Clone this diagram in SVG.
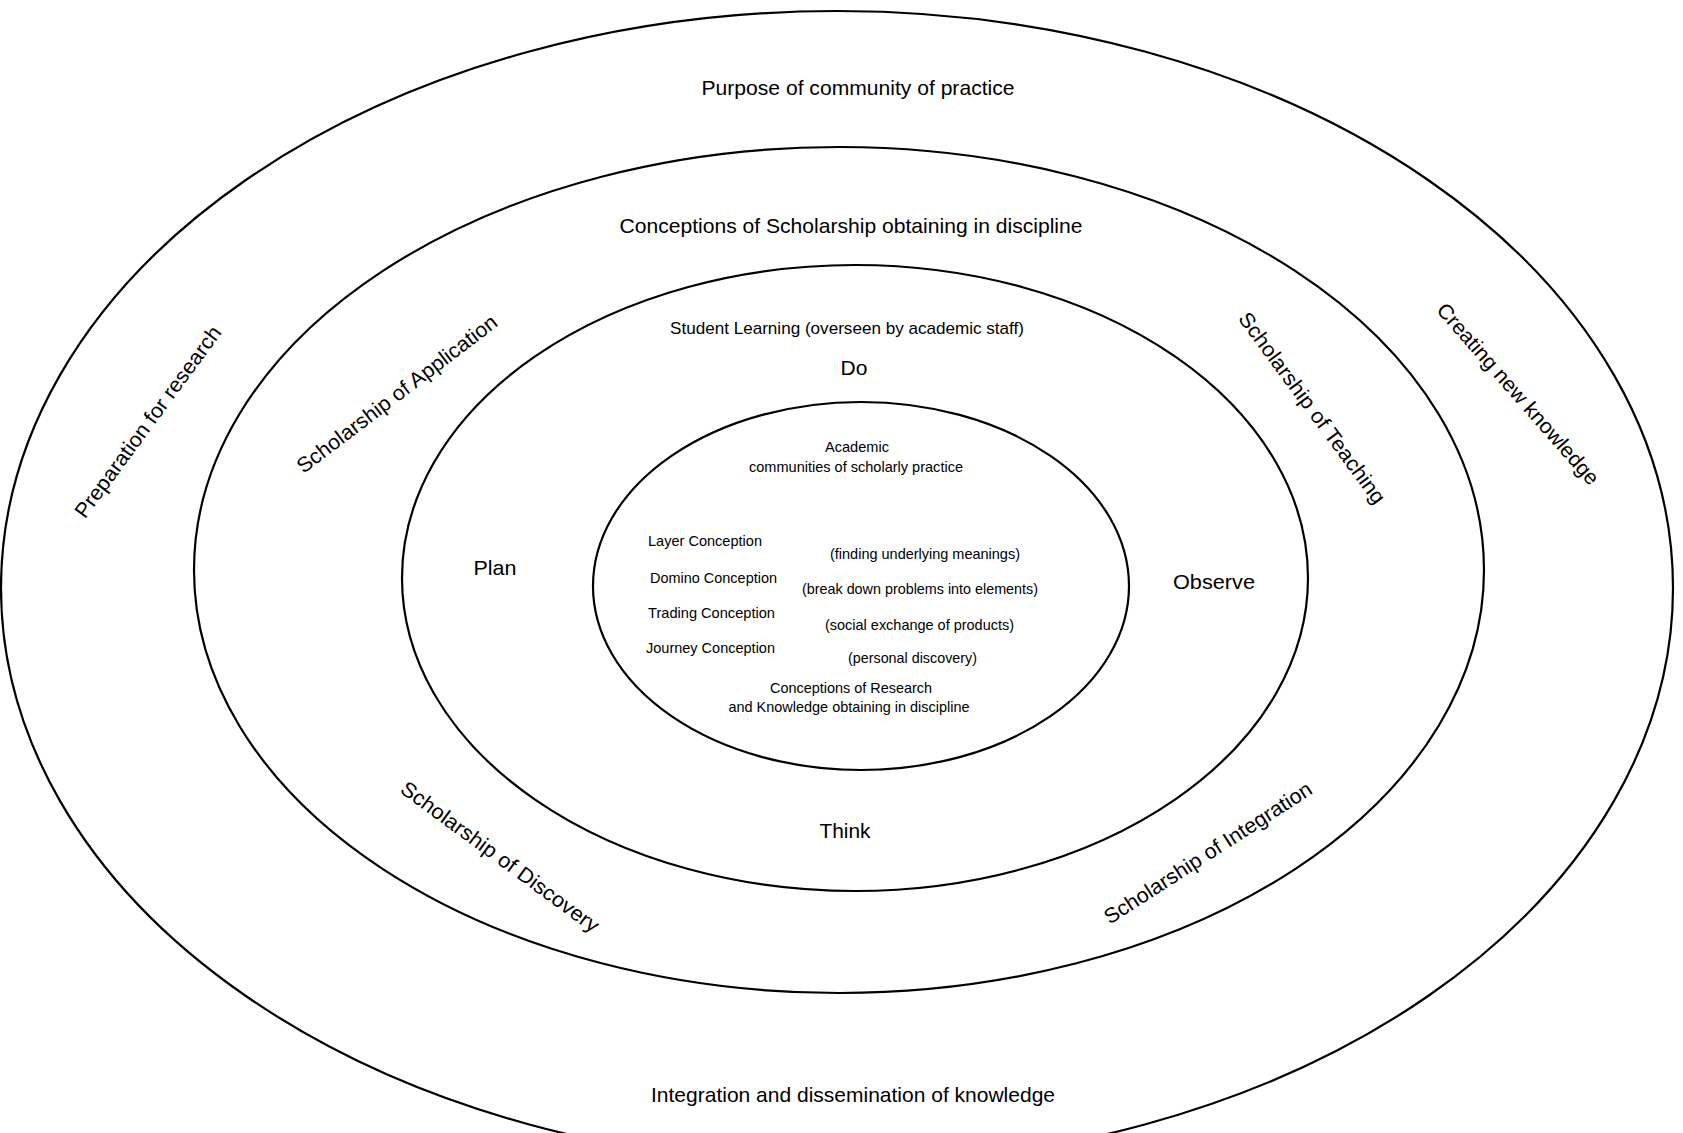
<svg xmlns="http://www.w3.org/2000/svg" width="1683" height="1133" viewBox="0 0 1683 1133">
<style>
.ring{fill:none;stroke:#000;stroke-width:2.2}
text{font-family:"Liberation Sans",Arial,sans-serif;fill:#000}
.l{font-size:21px}
.m{font-size:17px}
.s{font-size:14.5px}
</style>
<rect width="1683" height="1133" fill="#fff"/>
<g id="ring-outer">
<ellipse class="ring" cx="837" cy="588" rx="836" ry="577"/>
<text class="l" x="858" y="95" text-anchor="middle" textLength="313" lengthAdjust="spacingAndGlyphs">Purpose of community of practice</text>
<text class="l" x="853" y="1102" text-anchor="middle" textLength="404" lengthAdjust="spacingAndGlyphs">Integration and dissemination of knowledge</text>
<text class="l" transform="translate(148,422) rotate(-53.7)" x="0" y="7" text-anchor="middle" textLength="232" lengthAdjust="spacingAndGlyphs">Preparation for research</text>
<text class="l" transform="translate(1518,394) rotate(48.7)" x="0" y="7" text-anchor="middle" textLength="234" lengthAdjust="spacingAndGlyphs">Creating new knowledge</text>
</g>
<g id="ring-scholarship">
<ellipse class="ring" cx="839" cy="570" rx="645" ry="423"/>
<text class="l" x="851" y="233" text-anchor="middle" textLength="463" lengthAdjust="spacingAndGlyphs">Conceptions of Scholarship obtaining in discipline</text>
<text class="l" transform="translate(397,394) rotate(-37.3)" x="0" y="7" text-anchor="middle" textLength="246" lengthAdjust="spacingAndGlyphs">Scholarship of Application</text>
<text class="l" transform="translate(1312,408) rotate(53.6)" x="0" y="7" text-anchor="middle" textLength="232" lengthAdjust="spacingAndGlyphs">Scholarship of Teaching</text>
<text class="l" transform="translate(500,857) rotate(36.2)" x="0" y="7" text-anchor="middle" textLength="240" lengthAdjust="spacingAndGlyphs">Scholarship of Discovery</text>
<text class="l" transform="translate(1208,853) rotate(-32.9)" x="0" y="7" text-anchor="middle" textLength="243" lengthAdjust="spacingAndGlyphs">Scholarship of Integration</text>
</g>
<g id="ring-learning">
<ellipse class="ring" cx="855" cy="578" rx="453" ry="313"/>
<text class="m" x="847" y="334" text-anchor="middle" textLength="354" lengthAdjust="spacingAndGlyphs">Student Learning (overseen by academic staff)</text>
<text class="l" x="854" y="375" text-anchor="middle">Do</text>
<text class="l" x="495" y="575" text-anchor="middle" textLength="43" lengthAdjust="spacingAndGlyphs">Plan</text>
<text class="l" x="1214" y="589" text-anchor="middle" textLength="82" lengthAdjust="spacingAndGlyphs">Observe</text>
<text class="l" x="845" y="838" text-anchor="middle" textLength="51" lengthAdjust="spacingAndGlyphs">Think</text>
</g>
<g id="ring-inner">
<ellipse class="ring" cx="861" cy="586" rx="268" ry="184"/>
<text class="s" x="857" y="452" text-anchor="middle" textLength="64" lengthAdjust="spacingAndGlyphs">Academic</text>
<text class="s" x="856" y="472" text-anchor="middle" textLength="214" lengthAdjust="spacingAndGlyphs">communities of scholarly practice</text>
<text class="s" x="648" y="546" textLength="114" lengthAdjust="spacingAndGlyphs">Layer Conception</text>
<text class="s" x="830" y="559" textLength="190" lengthAdjust="spacingAndGlyphs">(finding underlying meanings)</text>
<text class="s" x="650" y="583" textLength="127" lengthAdjust="spacingAndGlyphs">Domino Conception</text>
<text class="s" x="802" y="594" textLength="236" lengthAdjust="spacingAndGlyphs">(break down problems into elements)</text>
<text class="s" x="648" y="618" textLength="127" lengthAdjust="spacingAndGlyphs">Trading Conception</text>
<text class="s" x="825" y="630" textLength="189" lengthAdjust="spacingAndGlyphs">(social exchange of products)</text>
<text class="s" x="646" y="653" textLength="129" lengthAdjust="spacingAndGlyphs">Journey Conception</text>
<text class="s" x="848" y="663" textLength="129" lengthAdjust="spacingAndGlyphs">(personal discovery)</text>
<text class="s" x="851" y="693" text-anchor="middle" textLength="162" lengthAdjust="spacingAndGlyphs">Conceptions of Research</text>
<text class="s" x="849" y="712" text-anchor="middle" textLength="241" lengthAdjust="spacingAndGlyphs">and Knowledge obtaining in discipline</text>
</g>
</svg>
